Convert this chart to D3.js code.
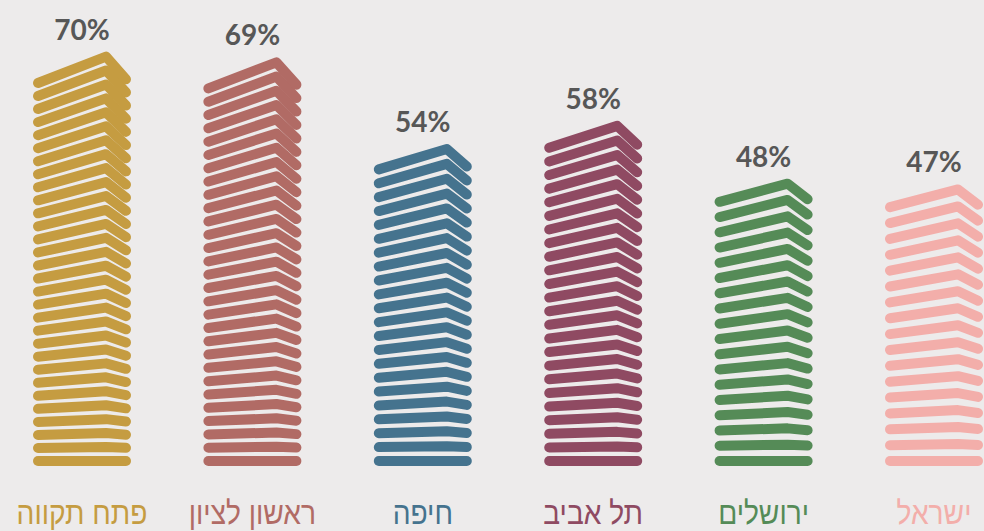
<!DOCTYPE html>
<html lang="he">
<head>
<meta charset="utf-8">
<script src="https://cdn.jsdelivr.net/npm/d3@7"></script>
<style>
  html, body { margin: 0; padding: 0; background: #edebeb; }
  svg { display: block; }
</style>
</head>
<body>
<svg id="chart" width="984" height="531"></svg>
<script>
// Share by city, drawn as stacked "floors" of a tower
const categories = ["פתח תקווה", "ראשון לציון", "חיפה", "תל אביב", "ירושלים", "ישראל"];
const values = [70, 69, 54, 58, 48, 47];
const floors = [30, 29, 22, 24, 18, 17];
const colors = ["#c59c41", "#b16b65", "#45738e", "#8f4a62", "#558b57", "#f3aeaa"];

const svg = d3.select("#chart");

const x = d3.scalePoint().domain(categories).range([82, 934]);
const y = d3.scaleLinear().domain([0, 100]).range([461, 461 - 540]);

// tower footprint relative to its centre
const halfW = 44, peakOff = 24;
const peakRise = 0.07, rightRise = 0.01;

const line = d3.line().x(d => d[0]).y(d => d[1]);

categories.forEach((cat, i) => {
  const cx = x(cat);
  const base = y(0);
  const top = y(values[i]);
  const total = base - top;
  const n = floors[i];
  const g = svg.append("g");

  const levels = d3.range(n).map(k => total * k / (n - 1));
  g.selectAll("path")
    .data(levels)
    .join("path")
    .attr("d", h => line([
      [cx - halfW, base - h],
      [cx + peakOff, base - h * (1 + peakRise)],
      [cx + halfW, base - h * (1 + rightRise)]
    ]))
    .attr("fill", "none")
    .attr("stroke", colors[i])
    .attr("stroke-width", 10)
    .attr("stroke-linecap", "round")
    .attr("stroke-linejoin", "round");

  const peakY = base - total * (1 + peakRise);
  svg.append("text")
    .attr("x", cx)
    .attr("y", peakY - 17)
    .attr("text-anchor", "middle")
    .attr("font-family", "Lato, sans-serif")
    .attr("font-weight", 700)
    .attr("font-size", 28)
    .attr("fill", "#575757")
    .text(values[i] + "%");

  svg.append("text")
    .attr("transform", `translate(${cx},524) scale(0.88,1)`)
    .attr("text-anchor", "middle")
    .attr("direction", "rtl")
    .attr("font-family", "'Liberation Sans', 'DejaVu Sans', sans-serif")
    .attr("font-size", 32)
    .attr("fill", colors[i])
    .text(cat);
});
</script>
</body>
</html>
